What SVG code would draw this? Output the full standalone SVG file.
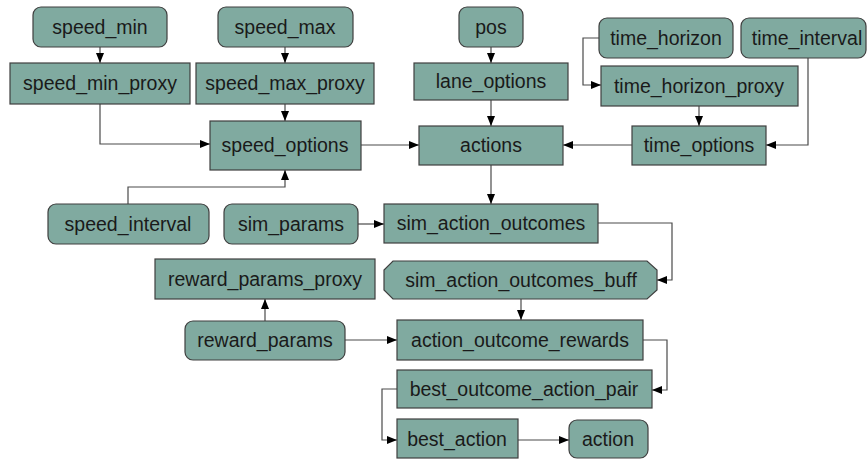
<svg xmlns="http://www.w3.org/2000/svg" width="867" height="460" viewBox="0 0 867 460">
  <defs>
    <marker id="arrow" viewBox="0 0 10 8" refX="10" refY="4" markerWidth="10" markerHeight="8" markerUnits="userSpaceOnUse" orient="auto">
      <path d="M0,0 L10,4 L0,8 Z" fill="#000"/>
    </marker>
    <style>
      .box { fill: #80aaa0; stroke: #3f3f3f; stroke-width: 1.2; }
      .lbl { font-family: "Liberation Sans", Arial, sans-serif; font-size: 19.5px; fill: #1a1a1a; text-anchor: middle; }
      .edge { fill: none; stroke: #4a4a4a; stroke-width: 1.2; marker-end: url(#arrow); }
    </style>
  </defs>
  <rect width="867" height="460" fill="#ffffff"/>

  <!-- connectors -->
  <g id="edges">
    <path class="edge" d="M100,47 V63"/>
    <path class="edge" d="M285,47 V63"/>
    <path class="edge" d="M491,47 V63"/>
    <path class="edge" d="M599,38 H583 V85 H601"/>
    <path class="edge" d="M699,106 V126"/>
    <path class="edge" d="M808,58 V145 H766"/>
    <path class="edge" d="M632,145 H563"/>
    <path class="edge" d="M491,100 V126"/>
    <path class="edge" d="M100,104 V144 H210"/>
    <path class="edge" d="M285,104 V121"/>
    <path class="edge" d="M128,204 V187 H285 V170"/>
    <path class="edge" d="M361,145 H419"/>
    <path class="edge" d="M491,165 V204"/>
    <path class="edge" d="M358,224 H384"/>
    <path class="edge" d="M598,223 H672 V280 H657"/>
    <path class="edge" d="M521,299 V320"/>
    <path class="edge" d="M265,321 V299"/>
    <path class="edge" d="M345,340 H397"/>
    <path class="edge" d="M643,340 H667 V390 H652"/>
    <path class="edge" d="M397,389 H382 V440 H397"/>
    <path class="edge" d="M518,440 H569"/>
  </g>

  <!-- nodes -->
  <g id="speed_min"><rect class="box" x="33" y="7" width="134" height="40" rx="8"/><text class="lbl" x="100" y="34">speed_min</text></g>
  <g id="speed_min_proxy"><rect class="box" x="10" y="63" width="180" height="41"/><text class="lbl" x="100" y="90">speed_min_proxy</text></g>
  <g id="speed_max"><rect class="box" x="218" y="7" width="135" height="40" rx="8"/><text class="lbl" x="285" y="34">speed_max</text></g>
  <g id="speed_max_proxy"><rect class="box" x="196" y="63" width="178" height="41"/><text class="lbl" x="285" y="90">speed_max_proxy</text></g>
  <g id="pos"><rect class="box" x="459" y="7" width="64" height="40" rx="8"/><text class="lbl" x="491" y="34">pos</text></g>
  <g id="lane_options"><rect class="box" x="414" y="63" width="154" height="37"/><text class="lbl" x="491" y="88">lane_options</text></g>
  <g id="time_horizon"><rect class="box" x="599" y="18" width="134" height="40" rx="8"/><text class="lbl" x="666" y="45">time_horizon</text></g>
  <g id="time_interval"><rect class="box" x="741" y="18" width="125" height="40" rx="8"/><text class="lbl" x="807" y="45">time_interval</text></g>
  <g id="time_horizon_proxy"><rect class="box" x="601" y="66" width="197" height="40"/><text class="lbl" x="699" y="93">time_horizon_proxy</text></g>
  <g id="time_options"><rect class="box" x="632" y="126" width="134" height="39"/><text class="lbl" x="699" y="152">time_options</text></g>
  <g id="speed_options"><rect class="box" x="210" y="121" width="151" height="49"/><text class="lbl" x="285" y="152">speed_options</text></g>
  <g id="actions"><rect class="box" x="419" y="126" width="144" height="39"/><text class="lbl" x="491" y="152">actions</text></g>
  <g id="speed_interval"><rect class="box" x="48" y="204" width="161" height="40" rx="8"/><text class="lbl" x="128" y="231">speed_interval</text></g>
  <g id="sim_params"><rect class="box" x="224" y="204" width="134" height="40" rx="8"/><text class="lbl" x="291" y="231">sim_params</text></g>
  <g id="sim_action_outcomes"><rect class="box" x="384" y="204" width="214" height="39"/><text class="lbl" x="491" y="230">sim_action_outcomes</text></g>
  <g id="sim_action_outcomes_buff"><path class="box" d="M393,261 H647 L657,270 V290 L647,299 H393 L384,290 V270 Z"/><text class="lbl" x="521" y="287">sim_action_outcomes_buff</text></g>
  <g id="reward_params_proxy"><rect class="box" x="155" y="259" width="220" height="40"/><text class="lbl" x="265" y="286">reward_params_proxy</text></g>
  <g id="reward_params"><rect class="box" x="185" y="321" width="160" height="39" rx="8"/><text class="lbl" x="265" y="347">reward_params</text></g>
  <g id="action_outcome_rewards"><rect class="box" x="397" y="320" width="246" height="40"/><text class="lbl" x="520" y="347">action_outcome_rewards</text></g>
  <g id="best_outcome_action_pair"><rect class="box" x="397" y="370" width="255" height="38"/><text class="lbl" x="524" y="396">best_outcome_action_pair</text></g>
  <g id="best_action"><rect class="box" x="397" y="419" width="121" height="39"/><text class="lbl" x="457" y="446">best_action</text></g>
  <g id="action"><rect class="box" x="569" y="420" width="79" height="38" rx="8"/><text class="lbl" x="608" y="446">action</text></g>
</svg>
